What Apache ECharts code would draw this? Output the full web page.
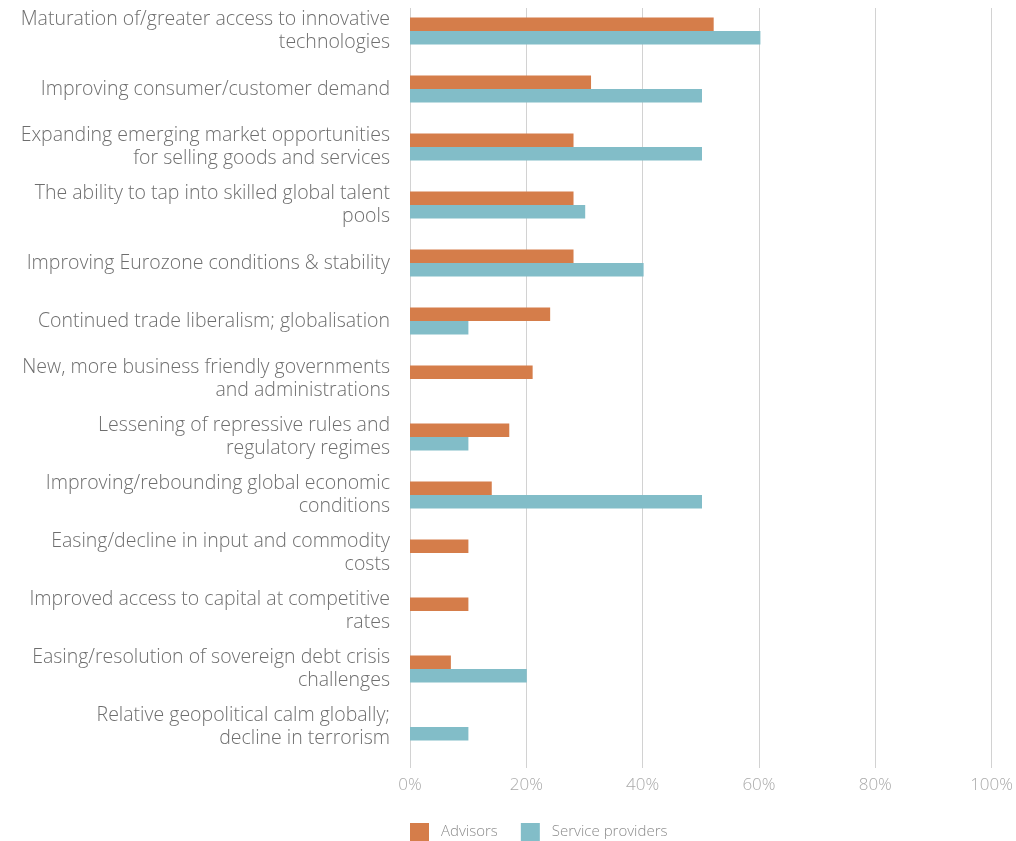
<!DOCTYPE html>
<html>
<head>
<meta charset="utf-8">
<script src="https://cdn.jsdelivr.net/npm/echarts@6/dist/echarts.min.js"></script>
<style>
  html, body { margin: 0; padding: 0; background: #ffffff; }
  #chart { width: 1016px; height: 841px; }
</style>
</head>
<body>
<div id="chart"></div>
<script>
// Drivers of growth, share of respondents by group
const categories = [
  'Maturation of/greater access to innovative\ntechnologies',
  'Improving consumer/customer demand',
  'Expanding emerging market opportunities\nfor selling goods and services',
  'The ability to tap into skilled global talent\npools',
  'Improving Eurozone conditions & stability',
  'Continued trade liberalism; globalisation',
  'New, more business friendly governments\nand administrations',
  'Lessening of repressive rules and\nregulatory regimes',
  'Improving/rebounding global economic\nconditions',
  'Easing/decline in input and commodity\ncosts',
  'Improved access to capital at competitive\nrates',
  'Easing/resolution of sovereign debt crisis\nchallenges',
  'Relative geopolitical calm globally;\ndecline in terrorism'
];
const advisors = [52, 31, 28, 28, 28, 24, 21, 17, 14, 10, 10, 7, 0];
const serviceProviders = [60, 50, 50, 30, 40, 10, 0, 10, 50, 0, 0, 20, 10];
const tickValues = [0, 20, 40, 60, 80, 100];
const tickLabels = ['0%', '20%', '40%', '60%', '80%', '100%'];

const chart = echarts.init(document.getElementById('chart'), null, { renderer: 'canvas' });

const fontFamily = '"Open Sans", Roboto, sans-serif';

chart.setOption({
  animation: false,
  backgroundColor: '#ffffff',
  legend: {
    data: ['Advisors', 'Service providers'],
    left: 410,
    top: 823,
    padding: 0,
    icon: 'rect',
    itemWidth: 19,
    itemHeight: 18,
    itemGap: 23,
    textStyle: {
      color: '#8c8c8c', fontSize: 15, fontFamily: fontFamily, fontWeight: 300,
      padding: [0, 0, 0, 7]
    }
  },
  grid: [
    { left: 410, width: 584, top: 2, height: 754 },
    { left: 410, width: 584, top: 8, height: 760 }
  ],
  xAxis: [
    {
      gridIndex: 0, type: 'value', min: 0, max: 100, interval: 20,
      show: false
    },
    {
      gridIndex: 1, type: 'value', min: 0, max: 100, interval: 20,
      axisLine: { show: false },
      axisTick: { show: false },
      splitLine: { show: true, lineStyle: { color: '#d2d2d2', width: 1 } },
      axisLabel: {
        margin: 9,
        color: '#aaaaaa',
        fontSize: 17,
        fontFamily: fontFamily,
        fontWeight: 300,
        formatter: function (v) { return tickLabels[tickValues.indexOf(v)]; }
      }
    }
  ],
  yAxis: [
    {
      gridIndex: 0, type: 'category', data: categories, inverse: true,
      axisLine: { show: false },
      axisTick: { show: false },
      splitLine: { show: false },
      axisLabel: {
        margin: 20,
        color: '#6e6e6e',
        fontSize: 19.5,
        lineHeight: 23,
        fontFamily: fontFamily,
        fontWeight: 300,
        align: 'right',
        padding: [4, 0, 0, 0]
      }
    },
    {
      gridIndex: 1, type: 'value', show: false
    }
  ],
  series: [
    {
      name: 'Advisors', type: 'bar', xAxisIndex: 0, yAxisIndex: 0,
      data: advisors, barWidth: 13.5, barGap: '0%',
      itemStyle: { color: '#D57D4A' }
    },
    {
      name: 'Service providers', type: 'bar', xAxisIndex: 0, yAxisIndex: 0,
      data: serviceProviders, barWidth: 13.5, barGap: '0%',
      itemStyle: { color: '#82BDC8' }
    }
  ]
});
</script>
</body>
</html>
